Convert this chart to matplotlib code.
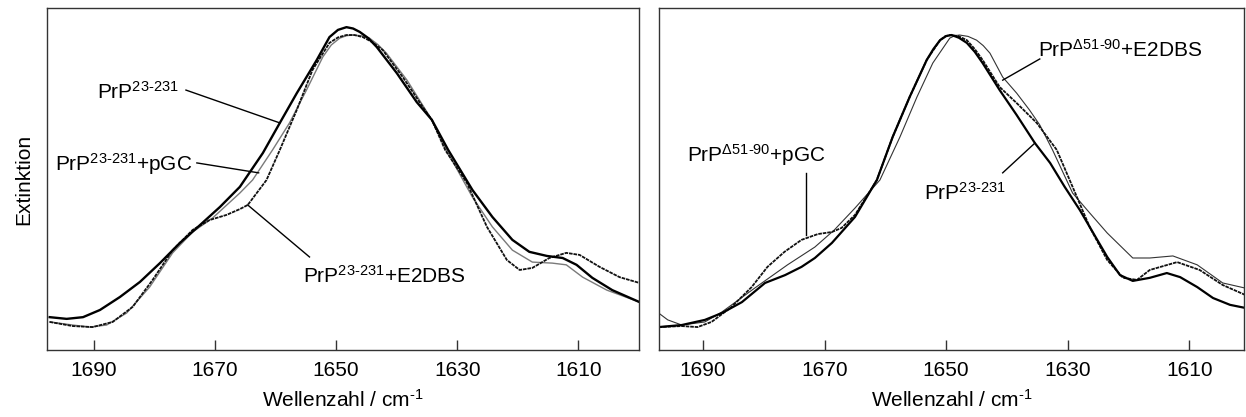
import matplotlib
matplotlib.use("Agg")
import matplotlib.pyplot as plt

plt.rcParams['font.family'] = ['Liberation Sans', 'DejaVu Sans']
plt.rcParams['mathtext.fontset'] = 'custom'
plt.rcParams['mathtext.rm'] = 'Liberation Sans'
plt.rcParams['mathtext.it'] = 'Liberation Sans'
plt.rcParams['mathtext.bf'] = 'Liberation Sans:bold'

# ---- left panel: PrP23-231 with / without ligands ----
wn_a = [1697.3, 1694.5, 1691.8, 1689.0, 1685.7, 1682.4, 1679.1, 1675.8, 1672.5, 1669.2,
        1665.9, 1662.1, 1659.3, 1656.5, 1653.2, 1651.1, 1649.7, 1648.3, 1647.2, 1646.1,
        1644.7, 1643.3, 1640.0, 1636.7, 1634.2, 1631.5, 1627.5, 1624.2, 1620.9, 1618.1,
        1615.2, 1612.6, 1610.3, 1607.7, 1604.4, 1599.9]
ext_a = [0.096, 0.091, 0.096, 0.117, 0.155, 0.199, 0.254, 0.313, 0.365, 0.418,
         0.477, 0.576, 0.664, 0.751, 0.848, 0.915, 0.936, 0.944, 0.940, 0.930,
         0.912, 0.886, 0.810, 0.725, 0.673, 0.585, 0.468, 0.389, 0.322, 0.287,
         0.275, 0.269, 0.249, 0.211, 0.175, 0.140]

wn_b = [1697.3, 1693.5, 1690.7, 1687.9, 1684.6, 1680.8, 1677.0, 1673.7, 1670.4, 1665.9,
        1663.8, 1660.5, 1657.7, 1654.9, 1652.2, 1650.8, 1649.4, 1648.3, 1647.3, 1645.9,
        1644.5, 1643.1, 1641.7, 1638.3, 1634.2, 1631.8, 1627.5, 1624.2, 1620.9, 1617.6,
        1614.3, 1612.0, 1609.3, 1605.3, 1599.9]
ext_b = [0.082, 0.073, 0.067, 0.073, 0.108, 0.184, 0.284, 0.345, 0.386, 0.459,
         0.497, 0.585, 0.664, 0.760, 0.857, 0.892, 0.912, 0.919, 0.921, 0.919,
         0.912, 0.893, 0.868, 0.789, 0.673, 0.585, 0.447, 0.360, 0.292, 0.257,
         0.254, 0.249, 0.213, 0.175, 0.140]

wn_c = [1697.3, 1693.5, 1690.2, 1686.9, 1683.6, 1680.3, 1677.0, 1673.7, 1670.9, 1668.1,
        1665.9, 1664.6, 1661.5, 1659.3, 1656.5, 1653.9, 1651.1, 1649.7, 1648.3, 1647.0,
        1645.6, 1644.0, 1642.3, 1639.0, 1635.7, 1634.2, 1632.0, 1628.4, 1625.1, 1621.8,
        1619.7, 1617.6, 1614.8, 1612.0, 1609.8, 1606.5, 1603.2, 1599.9]
ext_c = [0.082, 0.070, 0.067, 0.082, 0.126, 0.205, 0.292, 0.351, 0.380, 0.395,
         0.412, 0.424, 0.497, 0.585, 0.702, 0.819, 0.898, 0.914, 0.921, 0.921,
         0.915, 0.900, 0.877, 0.798, 0.711, 0.673, 0.585, 0.488, 0.360, 0.263,
         0.234, 0.240, 0.269, 0.284, 0.278, 0.243, 0.213, 0.196]

# ---- right panel: PrP23-231 vs PrP delta51-90 with ligands ----
wn_r1 = [1697.3, 1693.5, 1689.7, 1686.9, 1683.6, 1679.8, 1676.5, 1673.8, 1671.6, 1668.8,
         1665.0, 1661.4, 1658.8, 1656.0, 1653.2, 1652.1, 1651.0, 1650.0, 1649.1, 1647.9,
         1646.6, 1645.3, 1644.0, 1641.2, 1638.4, 1635.4, 1632.9, 1630.5, 1628.0, 1625.8,
         1623.5, 1621.4, 1619.3, 1616.5, 1613.7, 1611.5, 1608.7, 1606.1, 1603.3, 1600.8]
ext_r1 = [0.067, 0.073, 0.088, 0.108, 0.140, 0.196, 0.219, 0.243, 0.269, 0.313,
          0.389, 0.497, 0.623, 0.740, 0.848, 0.880, 0.906, 0.918, 0.921, 0.913,
          0.898, 0.872, 0.839, 0.760, 0.687, 0.605, 0.547, 0.477, 0.409, 0.342,
          0.272, 0.219, 0.202, 0.211, 0.225, 0.213, 0.184, 0.152, 0.132, 0.123]

wn_r2 = [1697.3, 1693.5, 1690.9, 1688.6, 1685.3, 1682.0, 1679.4, 1676.6, 1673.8, 1671.1,
         1668.8, 1667.2, 1665.0, 1661.4, 1658.8, 1656.0, 1653.2, 1651.0, 1650.2, 1649.4,
         1648.0, 1646.6, 1645.3, 1644.0, 1641.2, 1638.4, 1635.1, 1631.8, 1629.2, 1626.4,
         1623.5, 1620.9, 1618.6, 1616.5, 1612.0, 1608.3, 1604.5, 1600.8]
ext_r2 = [0.067, 0.070, 0.067, 0.082, 0.126, 0.184, 0.243, 0.287, 0.322, 0.339,
          0.345, 0.357, 0.395, 0.497, 0.623, 0.740, 0.848, 0.906, 0.917, 0.921,
          0.918, 0.906, 0.880, 0.848, 0.769, 0.722, 0.664, 0.585, 0.477, 0.360,
          0.263, 0.211, 0.205, 0.234, 0.257, 0.234, 0.190, 0.161]

wn_r3 = [1697.3, 1695.8, 1693.5, 1689.7, 1686.9, 1681.5, 1676.1, 1671.6, 1668.4, 1665.0,
         1660.9, 1657.6, 1654.8, 1652.2, 1649.4, 1648.6, 1647.8, 1646.4, 1645.0, 1643.9,
         1642.8, 1640.7, 1638.4, 1636.3, 1634.6, 1632.5, 1629.2, 1626.4, 1623.5, 1619.3,
         1616.5, 1612.7, 1608.7, 1604.5, 1600.8]
ext_r3 = [0.108, 0.088, 0.073, 0.082, 0.111, 0.181, 0.249, 0.301, 0.351, 0.415,
          0.497, 0.623, 0.740, 0.839, 0.912, 0.919, 0.921, 0.917, 0.906, 0.890,
          0.868, 0.798, 0.751, 0.702, 0.658, 0.585, 0.459, 0.401, 0.342, 0.269,
          0.269, 0.275, 0.249, 0.196, 0.181]

xticks = [1690, 1670, 1650, 1630, 1610]

# labels: (text, x, y) and leader lines (x0, y0, x1, y1)
left_labels = [("PrP$^{23\\text{-}231}$", 1689.5, 0.734),
               ("PrP$^{23\\text{-}231}$+pGC", 1696.4, 0.523),
               ("PrP$^{23\\text{-}231}$+E2DBS", 1655.5, 0.196)]
left_leaders = [(1674.8, 0.760, 1659.3, 0.664),
                (1673.0, 0.547, 1662.8, 0.518),
                (1654.4, 0.272, 1664.6, 0.424)]
right_labels = [("PrP$^{\\Delta 51\\text{-}90}$+pGC", 1692.7, 0.550),
                ("PrP$^{\\Delta 51\\text{-}90}$+E2DBS", 1634.9, 0.857),
                ("PrP$^{23\\text{-}231}$", 1653.7, 0.439)]
right_leaders = [(1673.0, 0.518, 1673.0, 0.336),
                 (1634.6, 0.851, 1640.7, 0.789),
                 (1640.7, 0.518, 1635.4, 0.605)]

fig = plt.figure(figsize=(12.46, 4.17), dpi=100)
ax1 = fig.add_axes([0.0377, 0.1607, 0.4751, 0.8201])
ax2 = fig.add_axes([0.5291, 0.1607, 0.4693, 0.8201])

ax1.plot(wn_b, ext_b, color='#7a7a7a', lw=1.0)
ax1.plot(wn_c, ext_c, color='#111111', lw=1.3, linestyle=(0, (2.0, 0.5)))
ax1.plot(wn_a, ext_a, color='black', lw=1.7)

ax2.plot(wn_r3, ext_r3, color='#333333', lw=0.8)
ax2.plot(wn_r2, ext_r2, color='#111111', lw=1.3, linestyle=(0, (2.0, 0.5)))
ax2.plot(wn_r1, ext_r1, color='black', lw=1.6)

for ax, xl, labels, leaders in [(ax1, (1697.75, 1600.0), left_labels, left_leaders),
                                (ax2, (1697.2, 1601.0), right_labels, right_leaders)]:
    ax.set_xlim(*xl)
    ax.set_ylim(0, 1)
    ax.set_xticks(xticks)
    ax.set_yticks([])
    ax.tick_params(axis='x', direction='in', length=7, width=1.0, pad=8,
                   labelsize=15, color='#333333')
    for s in ax.spines.values():
        s.set_color('#333333')
        s.set_linewidth(1.0)
    ax.set_xlabel("Wellenzahl / cm$^{\\text{-}1}$", fontsize=15, labelpad=6)
    for txt, x, y in labels:
        ax.text(x, y, txt, fontsize=15, ha='left', va='baseline')
    for x0, y0, x1, y1 in leaders:
        ax.plot([x0, x1], [y0, y1], color='black', lw=1.0)

ax1.set_ylabel("Extinktion", fontsize=15, labelpad=10)

fig.savefig("out.png", dpi=100)
